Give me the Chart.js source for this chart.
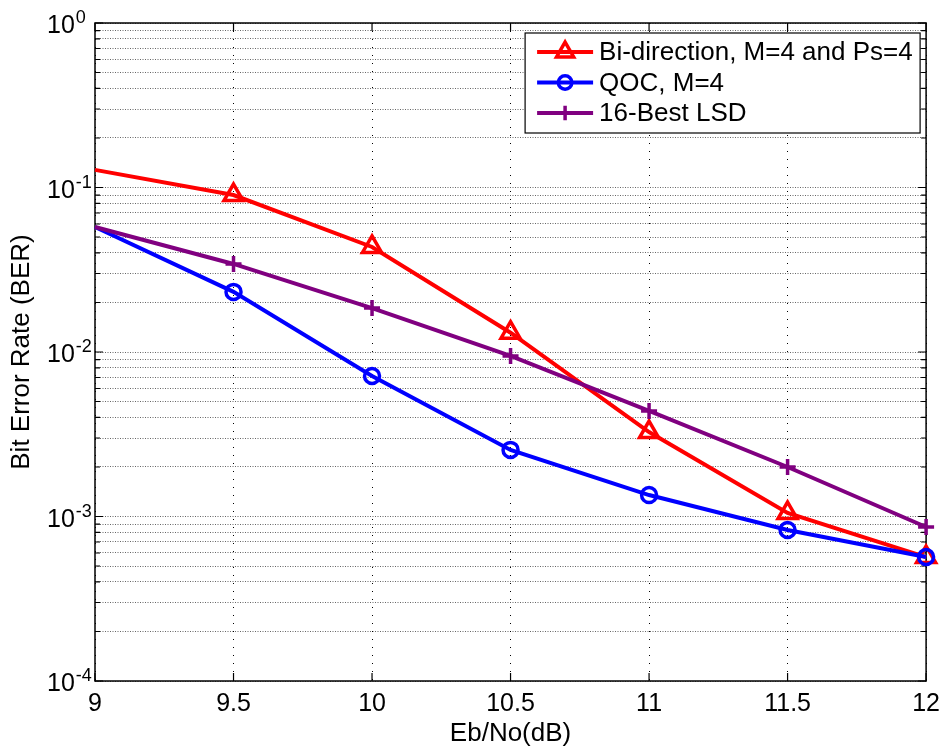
<!DOCTYPE html>
<html>
<head>
<meta charset="utf-8">
<script src="https://cdn.jsdelivr.net/npm/chart.js@4.4.1/dist/chart.umd.min.js"></script>
<style>
  html, body { margin: 0; padding: 0; background: #fff; }
  #c { display: block; }
</style>
</head>
<body>
<canvas id="c" width="948" height="751"></canvas>
<script>
// Eb/No values (dB) and measured bit error rates
const ebNo = [9, 9.5, 10, 10.5, 11, 11.5, 12];
const berBiDirection = [0.128, 0.090, 0.0435, 0.0131, 0.00326, 0.00105, 0.000567];
const berQOC = [0.0575, 0.0232, 0.00715, 0.00254, 0.00135, 0.000828, 0.000567];
const berBestLSD = [0.0575, 0.0343, 0.0185, 0.00946, 0.00438, 0.00200, 0.000863];
const seriesNames = ['Bi-direction, M=4 and Ps=4', 'QOC, M=4', '16-Best LSD'];

// Axis ticks
const xTicks = [9, 9.5, 10, 10.5, 11, 11.5, 12];
const decadeExponents = [-4, -3, -2, -1, 0];
const minorMultipliers = [2, 3, 4, 5, 6, 7, 8, 9];

const FONT = '"Liberation Sans", Arial, Helvetica, sans-serif';
Chart.defaults.font.family = FONT;
Chart.defaults.color = '#000';

const yTickValues = [];
decadeExponents.forEach(e => {
  yTickValues.push(Math.pow(10, e));
  if (e < 0) minorMultipliers.forEach(m => yTickValues.push(m * Math.pow(10, e)));
});
const isDecade = v => Math.abs(Math.log10(v) - Math.round(Math.log10(v))) < 1e-9;

const toPoints = arr => ebNo.map((x, i) => ({ x, y: arr[i] }));
const noMarkerAtStart = r => ctx => (ctx.dataIndex === 0 ? 0 : r);

const datasets = [
  {
    label: seriesNames[0], data: toPoints(berBiDirection),
    borderColor: '#ff0000', pointStyle: 'triangle', markerRadius: 11, order: 2
  },
  {
    label: seriesNames[1], data: toPoints(berQOC),
    borderColor: '#0000ff', pointStyle: 'circle', markerRadius: 7.5, order: 1
  },
  {
    label: seriesNames[2], data: toPoints(berBestLSD),
    borderColor: '#800080', pointStyle: 'cross', markerRadius: 8, order: 0
  }
].map(d => Object.assign(d, {
  borderWidth: 4,
  tension: 0,
  fill: false,
  clip: false,
  pointBorderColor: d.borderColor,
  pointBackgroundColor: 'rgba(0,0,0,0)',
  pointBorderWidth: 3.5,
  pointRadius: noMarkerAtStart(d.markerRadius),
  pointHoverRadius: noMarkerAtStart(d.markerRadius)
}));

function drawMarker(ctx, style, radius, x, y) {
  if (Chart.helpers && Chart.helpers.drawPoint) {
    Chart.helpers.drawPoint(ctx, { pointStyle: style, radius, borderWidth: ctx.lineWidth, rotation: 0 }, x, y);
    return;
  }
  ctx.beginPath();
  if (style === 'circle') ctx.arc(x, y, radius, 0, Math.PI * 2);
  ctx.stroke();
}

// Axes box, inward tick marks, superscripted decade labels and the legend
const framePlugin = {
  id: 'frame',
  beforeDatasetsDraw(chart) {
    const { ctx, chartArea: a, scales: { x, y } } = chart;
    ctx.save();
    ctx.strokeStyle = '#000';
    ctx.lineWidth = 1.5;
    ctx.strokeRect(a.left, a.top, a.right - a.left, a.bottom - a.top);
    ctx.lineWidth = 1.2;
    ctx.beginPath();
    x.ticks.forEach(t => {
      const px = x.getPixelForValue(t.value);
      ctx.moveTo(px, a.bottom); ctx.lineTo(px, a.bottom - 8);
      ctx.moveTo(px, a.top); ctx.lineTo(px, a.top + 8);
    });
    y.ticks.forEach(t => {
      const py = y.getPixelForValue(t.value);
      const len = isDecade(t.value) ? 8 : 5;
      ctx.moveTo(a.left, py); ctx.lineTo(a.left + len, py);
      ctx.moveTo(a.right, py); ctx.lineTo(a.right - len, py);
    });
    ctx.stroke();
    ctx.restore();
  },
  afterDraw(chart) {
    const { ctx, chartArea: a, scales: { y } } = chart;
    ctx.save();
    ctx.fillStyle = '#000';
    ctx.textAlign = 'left';
    ctx.textBaseline = 'alphabetic';
    decadeExponents.forEach(e => {
      const py = y.getPixelForValue(Math.pow(10, e));
      const bx = a.left - 48;
      ctx.font = '25px ' + FONT;
      ctx.fillText('10', bx, py + 10);
      const w = ctx.measureText('10').width;
      ctx.font = '18px ' + FONT;
      ctx.fillText(String(e), bx + w + 1, py);
    });

    // legend
    const bw = 395, bh = 100;
    const lx = a.right - 6 - bw, ly = a.top + 10;
    ctx.fillStyle = '#fff';
    ctx.fillRect(lx, ly, bw, bh);
    ctx.strokeStyle = '#000';
    ctx.lineWidth = 1.2;
    ctx.strokeRect(lx, ly, bw, bh);
    chart.data.datasets.forEach((ds, i) => {
      const ry = ly + 19 + i * 30.5;
      ctx.strokeStyle = ds.borderColor;
      ctx.lineWidth = ds.borderWidth;
      ctx.beginPath();
      ctx.moveTo(lx + 12, ry); ctx.lineTo(lx + 68, ry);
      ctx.stroke();
      ctx.fillStyle = 'rgba(0,0,0,0)';
      ctx.lineWidth = ds.pointBorderWidth;
      drawMarker(ctx, ds.pointStyle, ds.markerRadius * 0.9, lx + 40, ry);
      ctx.fillStyle = '#000';
      ctx.font = '26px ' + FONT;
      ctx.textBaseline = 'middle';
      ctx.fillText(ds.label, lx + 74, ry + 1);
    });
    ctx.restore();
  }
};

new Chart(document.getElementById('c'), {
  type: 'line',
  data: { datasets },
  options: {
    responsive: false,
    animation: false,
    devicePixelRatio: 1,
    layout: { padding: { left: 0, right: 20, top: 23, bottom: 0 } },
    plugins: { legend: { display: false }, tooltip: { enabled: false } },
    scales: {
      x: {
        type: 'linear', min: 9, max: 12,
        afterBuildTicks: s => { s.ticks = xTicks.map(v => ({ value: v })); },
        afterFit: s => { s.height = 70; },
        ticks: {
          font: { size: 25 }, color: '#000', padding: 8,
          maxRotation: 0, autoSkip: false,
          callback: v => String(v)
        },
        grid: { color: '#000', lineWidth: 1, drawTicks: false },
        border: { display: false, dash: [1, 7] },
        title: {
          display: true, text: 'Eb/No(dB)', color: '#000',
          font: { size: 26 }, padding: { top: 0, bottom: 2 }
        }
      },
      y: {
        type: 'logarithmic', min: 1e-4, max: 1,
        afterBuildTicks: s => { s.ticks = yTickValues.map(v => ({ value: v, major: isDecade(v) })); },
        afterFit: s => { s.width = 95; },
        ticks: { display: false },
        grid: { color: 'rgba(0,0,0,0.6)', lineWidth: 1, drawTicks: false },
        border: { display: false, dash: [1, 1.5] },
        title: {
          display: true, text: 'Bit Error Rate (BER)', color: '#000',
          font: { size: 26 }, padding: { top: 6, bottom: 0 }
        }
      }
    }
  },
  plugins: [framePlugin]
});
</script>
</body>
</html>
